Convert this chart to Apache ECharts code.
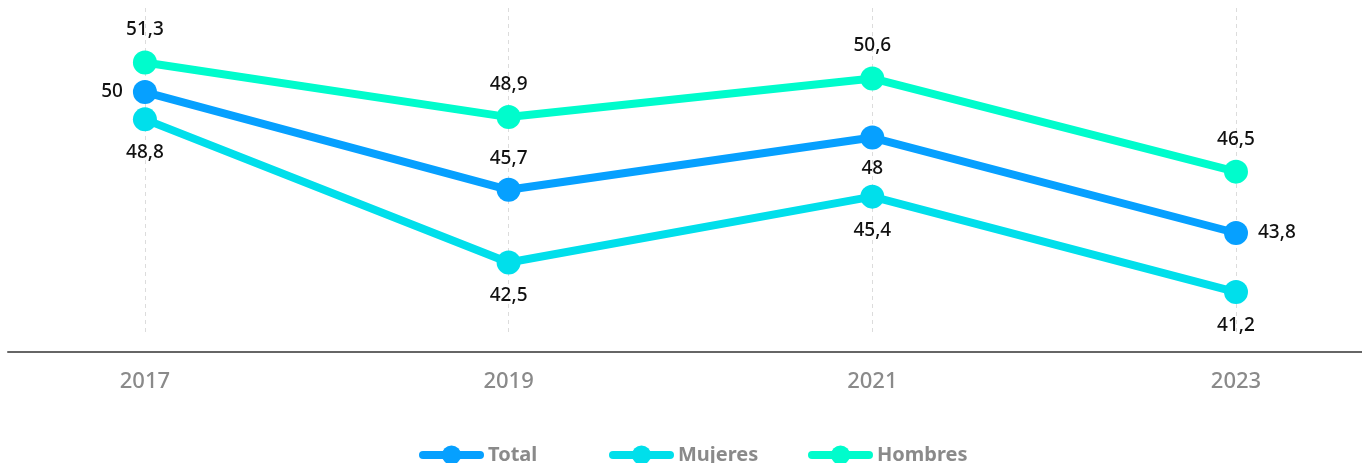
<!DOCTYPE html>
<html><head><meta charset="utf-8">
<script src="https://cdn.jsdelivr.net/npm/echarts@6/dist/echarts.min.js"></script>
<style>html,body{margin:0;padding:0;background:#fff}#c{width:1362px;height:463px}</style>
</head><body><div id="c"></div>
<script>
const years = [2017, 2019, 2021, 2023];
const seriesNames = ['Total', 'Mujeres', 'Hombres'];
const total = [50, 45.7, 48, 43.8];
const mujeres = [48.8, 42.5, 45.4, 41.2];
const hombres = [51.3, 48.9, 50.6, 46.5];
const totalLabelPos = ['left', 'top', 'bottom', 'right'];

const FONT = 'Noto Sans';
const fmt = v => String(v).replace('.', ',');
function pts(vals){ return years.map((y,i)=>[y, vals[i]]); }
const lbl = {show: true, color: '#111', fontSize: 19, fontFamily: FONT, fontWeight: 500, formatter: p => fmt(p.value[1])};
const legendLefts = [414, 604, 803];

const chart = echarts.init(document.getElementById('c'));
chart.setOption({
  animation: false,
  grid: {left: 8, right: 0, top: 8, bottom: 130},
  xAxis: {
    type: 'value', min: 2016.247, max: 2023.693,
    offset: 19,
    axisLine: {show: true, lineStyle: {color: '#666', width: 2}},
    axisTick: {show: false, customValues: years},
    axisLabel: {customValues: years, margin: 19, color: '#8a8a8a', fontSize: 22, fontFamily: FONT, fontWeight: 500, formatter: v => String(v)},
    splitLine: {show: true, lineStyle: {color: '#dcdcdc', type: [4,4], width: 1}}
  },
  yAxis: {type: 'value', min: 39.4, max: 53.7, show: false, splitLine: {show: false}},
  legend: seriesNames.map((n, i) => ({
    top: 440, left: legendLefts[i],
    itemWidth: 57, itemHeight: 24,
    lineStyle: {width: 8, cap: 'round'},
    textStyle: {color: '#8a8a8a', fontSize: 20, fontFamily: FONT, fontWeight: 700, padding: [0, 0, 0, 3]},
    data: [n]
  })),
  series: [
    {name: seriesNames[0], type: 'line', z: 4, data: pts(total).map((p,i)=>({value: p, label: {position: totalLabelPos[i]}})),
     color: '#06a0ff', lineStyle: {width: 8}, symbol: 'circle', symbolSize: 24,
     label: Object.assign({distance: 10}, lbl)},
    {name: seriesNames[1], type: 'line', z: 3, data: pts(mujeres),
     color: '#00dfeb', lineStyle: {width: 8}, symbol: 'circle', symbolSize: 24,
     label: Object.assign({position: 'bottom', distance: 12}, lbl)},
    {name: seriesNames[2], type: 'line', z: 2, data: pts(hombres),
     color: '#00fccc', lineStyle: {width: 8}, symbol: 'circle', symbolSize: 24,
     label: Object.assign({position: 'top', distance: 11}, lbl)}
  ]
});
</script></body></html>
